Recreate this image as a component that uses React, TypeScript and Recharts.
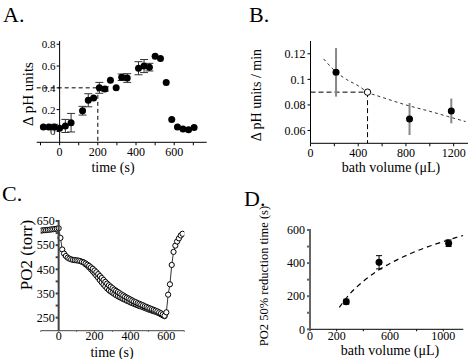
import React from "react";
import {
  ComposedChart,
  ErrorBar,
  Line,
  ReferenceLine,
  Scatter,
  XAxis,
  YAxis,
} from "recharts";

const W = 470;
const H = 359;
const SERIF = "Liberation Serif, Times New Roman, serif";

// A. pH change over time
const aTime = [-85, -57, -28, 0, 30, 60, 120, 150, 178, 208, 237, 266, 296, 325, 354, 413, 442, 470, 500, 528, 558, 587, 617, 646, 675, 704];
const aDeltaPh = [0.041, 0.04, 0.04, 0.03, 0.05, 0.08, 0.19, 0.286, 0.307, 0.4, 0.39, 0.47, 0.4, 0.497, 0.49, 0.58, 0.6, 0.59, 0.69, 0.67, 0.45, 0.11, 0.04, 0.023, 0.015, 0.035];
const aErr = [0, 0, 0.025, 0, 0.06, 0.085, 0.04, 0.06, 0, 0.05, 0.02, 0, 0, 0.03, 0.04, 0.06, 0.06, 0.035, 0, 0, 0, 0, 0, 0, 0, 0];
const aTicksX = [-100, 0, 100, 200, 300, 400, 500, 600, 700];
const aLabelsX = [0, 200, 400, 600];
const aTicksY = [0, 0.2, 0.4, 0.6, 0.8];

// B. rate vs bath volume
const bVolume = [214, 830, 1180];
const bRate = [0.1055, 0.069, 0.0753];
const bErr = [0.019, 0.0125, 0.0097];
const bMarkVolume = [478];
const bMarkRate = [0.09];
const bFitVolume = [110, 200, 300, 400, 480, 600, 800, 1000, 1150, 1300];
const bFitRate = [0.116, 0.107, 0.1, 0.095, 0.09, 0.086, 0.08, 0.075, 0.071, 0.067];
const bTicksX = [0, 200, 400, 600, 800, 1000, 1200];
const bLabelsX = [0, 400, 800, 1200];
const bTicksY = [0.06, 0.08, 0.1, 0.12];

// C. PO2 trace
const cTime = [-100, -90, -80, -70, -60, -50, -40, -30, -20, -10, 0, 10, 20, 30, 40, 50, 60, 70, 80, 90, 100, 110, 120, 130, 140, 150, 160, 170, 180, 190, 200, 210, 220, 230, 240, 250, 260, 270, 280, 290, 300, 310, 320, 330, 340, 350, 360, 370, 380, 390, 400, 410, 420, 430, 440, 450, 460, 470, 480, 490, 500, 510, 520, 530, 540, 550, 560, 570, 580, 590, 600, 610, 620, 630, 640, 650, 660, 670, 680, 690];
const cPo2 = [610, 611, 612, 612, 613, 614, 615, 616, 617, 618, 620, 580, 532, 515, 505, 498, 494, 491, 489, 488, 487, 486, 484, 481, 478, 474, 469, 464, 458, 452, 445, 438, 430, 422, 414, 406, 398, 391, 384, 378, 372, 366, 361, 356, 351, 346, 342, 337, 333, 329, 325, 321, 317, 314, 310, 307, 304, 301, 297, 294, 291, 288, 285, 282, 279, 276, 272, 268, 263, 258, 272, 345, 388, 468, 522, 548, 565, 578, 590, 597];
const cTime2 = [140, 150, 160, 170, 180, 190, 200, 210, 220, 230, 240, 250, 260, 270, 280, 290, 300, 310, 320, 330, 340, 350, 360, 370, 380, 390, 400, 410, 420, 430, 440, 450, 460, 470, 480, 490, 500, 510, 520, 530, 540, 550, 560, 570, 580, 590];
const cPo2b = [478, 471, 465, 458, 450, 442, 433, 424, 415, 405, 396, 387, 379, 371, 364, 358, 353, 348, 343, 339, 335, 331, 327, 324, 320, 317, 313, 310, 307, 304, 301, 298, 296, 293, 290, 287, 284, 282, 279, 277, 274, 271, 268, 264, 260, 256];
const cTicksX = [-100, 0, 100, 200, 300, 400, 500, 600, 700];
const cLabelsX = [0, 200, 400, 600];
const cTicksY = [250, 300, 350, 400, 450, 500, 550, 600, 650];
const cLabelsY = [250, 350, 450, 550, 650];

// D. 50% reduction time
const dVolume = [272, 518, 1040];
const dTime = [167, 405, 520];
const dErr = [15, 40, 20];
const dFitVolume = [220, 300, 400, 500, 600, 700, 800, 900, 1000, 1100, 1150];
const dFitTime = [133, 215, 290, 350, 398, 438, 473, 503, 530, 555, 567];
const dTicksX = [0, 200, 400, 600, 800, 1000];
const dLabelsX = [0, 200, 600, 1000];
const dTicksY = [0, 100, 200, 300, 400, 500, 600];
const dLabelsY = [0, 200, 400, 600];

const zip = (xs: number[], ys: number[], es?: number[]) =>
  xs.map((x, i) => ({ x, y: ys[i], e: es ? es[i] : 0 }));

const aData = zip(aTime, aDeltaPh, aErr);
const bData = zip(bVolume, bRate, bErr);
const bMark = zip(bMarkVolume, bMarkRate);
const bFit = zip(bFitVolume, bFitRate);
const cData = zip(cTime, cPo2);
const cData2 = zip(cTime2, cPo2b);
const dData = zip(dVolume, dTime, dErr);
const dFit = zip(dFitVolume, dFitTime);

const onlyLabels = (labels: number[]) => (v: number) =>
  labels.includes(v) ? String(v) : "";

const filledDot = (r: number) => (props: any) =>
  <circle cx={props.cx} cy={props.cy} r={r} fill="#000" />;
const openDot = (r: number) => (props: any) =>
  <circle cx={props.cx} cy={props.cy} r={r} fill="#fff" stroke="#000" strokeWidth={1} />;

const tickFont = (size: number) => ({ fontSize: size, fill: "#000", fontFamily: SERIF });

const layer: React.CSSProperties = { position: "absolute", left: 0, top: 0 };

// plot boxes in page pixels
const A = { l: 36.7, r: 206.7, t: 41, b: 142.3, xd: [-120, 770] };
const C = { l: 40.7, r: 184.3, t: 220, b: 330.7, xd: [-100, 700] };
const zeroX = (p: { l: number; r: number; xd: number[] }) =>
  p.l + ((0 - p.xd[0]) / (p.xd[1] - p.xd[0])) * (p.r - p.l);

// y axis standing at x = 0 inside the plot: its own thin chart on top
function InnerYAxis(props: {
  box: { l: number; r: number; t: number; b: number; xd: number[] };
  domain: number[];
  ticks: number[];
  labels: number[];
  size: number;
  stroke: string;
  strokeWidth: number;
  probe: { x: number; y: number }[];
}) {
  const x0 = zeroX(props.box);
  return (
    <div style={layer}>
      <ComposedChart
        width={W}
        height={H}
        margin={{ top: props.box.t, right: W - x0 - 4, bottom: H - props.box.b, left: x0 - 40 }}
      >
        <XAxis type="number" dataKey="x" domain={[0, 1]} hide allowDataOverflow />
        <YAxis
          type="number"
          dataKey="y"
          domain={props.domain}
          ticks={props.ticks}
          interval={0}
          width={40}
          tickSize={3}
          tickMargin={1}
          tickFormatter={onlyLabels(props.labels)}
          tick={tickFont(props.size)}
          stroke={props.stroke}
          strokeWidth={props.strokeWidth}
          allowDataOverflow
        />
        <Scatter data={props.probe} dataKey="y" shape={() => <g />} isAnimationActive={false} />
      </ComposedChart>
    </div>
  );
}

export default function App() {
  return (
    <div
      style={{
        position: "absolute",
        left: 0,
        top: 0,
        width: W,
        height: H,
        background: "#fff",
        fontFamily: SERIF,
      }}
    >
      {/* A */}
      <div style={layer}>
        <ComposedChart
          width={W}
          height={H}
          margin={{ top: A.t, right: W - A.r, bottom: H - A.b - 30, left: A.l }}
        >
          <XAxis
            type="number"
            dataKey="x"
            domain={A.xd}
            ticks={aTicksX}
            interval={0}
            height={30}
            tickSize={3}
            tickFormatter={onlyLabels(aLabelsX)}
            tick={tickFont(12)}
            stroke="#000"
            allowDataOverflow
          />
          <YAxis type="number" dataKey="y" domain={[-0.1, 0.83]} hide allowDataOverflow />
          <ReferenceLine
            segment={[{ x: -120, y: 0.4 }, { x: 200, y: 0.4 }]}
            stroke="#000"
            strokeDasharray="4 3"
          />
          <ReferenceLine
            segment={[{ x: 200, y: 0.4 }, { x: 200, y: -0.1 }]}
            stroke="#000"
            strokeDasharray="4 3"
          />
          <Scatter data={aData} dataKey="y" shape={filledDot(3.5)} isAnimationActive={false}>
            <ErrorBar dataKey="e" direction="y" width={4} stroke="#333" strokeWidth={1} />
          </Scatter>
        </ComposedChart>
      </div>
      <InnerYAxis
        box={A}
        domain={[-0.1, 0.83]}
        ticks={aTicksY}
        labels={aTicksY}
        size={11}
        stroke="#000"
        strokeWidth={1}
        probe={aData}
      />

      {/* B */}
      <div style={layer}>
        <ComposedChart
          width={W}
          height={H}
          margin={{ top: 41, right: 2, bottom: H - 143.3 - 30, left: 310.5 - 40 }}
        >
          <XAxis
            type="number"
            dataKey="x"
            domain={[0, 1320]}
            ticks={bTicksX}
            interval={0}
            height={30}
            tickSize={3}
            tickFormatter={onlyLabels(bLabelsX)}
            tick={tickFont(12)}
            stroke="#000"
            allowDataOverflow
          />
          <YAxis
            type="number"
            dataKey="y"
            domain={[0.05, 0.13]}
            ticks={bTicksY}
            interval={0}
            width={40}
            tickSize={3}
            tick={tickFont(12)}
            stroke="#000"
            allowDataOverflow
          />
          <ReferenceLine
            segment={[{ x: 0, y: 0.09 }, { x: 478, y: 0.09 }]}
            stroke="#000"
            strokeDasharray="5 3"
          />
          <ReferenceLine
            segment={[{ x: 478, y: 0.09 }, { x: 478, y: 0.05 }]}
            stroke="#000"
            strokeDasharray="5 3"
          />
          <Line
            data={bFit}
            dataKey="y"
            type="monotone"
            stroke="#333"
            strokeWidth={1}
            strokeDasharray="3 3"
            dot={false}
            isAnimationActive={false}
          />
          <Scatter data={bData} dataKey="y" shape={filledDot(3.5)} isAnimationActive={false}>
            <ErrorBar dataKey="e" direction="y" width={0} stroke="#888" strokeWidth={2} />
          </Scatter>
          <Scatter data={bMark} dataKey="y" shape={openDot(3.2)} isAnimationActive={false} />
        </ComposedChart>
      </div>

      {/* C */}
      <div style={layer}>
        <ComposedChart
          width={W}
          height={H}
          margin={{ top: C.t, right: W - C.r, bottom: H - C.b - 20, left: C.l }}
        >
          <XAxis
            type="number"
            dataKey="x"
            domain={C.xd}
            ticks={cTicksX}
            interval={0}
            height={20}
            tickSize={1}
            tickMargin={0}
            tickFormatter={onlyLabels(cLabelsX)}
            tick={tickFont(12)}
            stroke="#444"
            allowDataOverflow
          />
          <YAxis type="number" dataKey="y" domain={[196, 654]} hide allowDataOverflow />
          <Line
            data={cData2}
            dataKey="y"
            type="linear"
            stroke="#000"
            strokeWidth={0.8}
            dot={openDot(2.6)}
            isAnimationActive={false}
          />
          <Line
            data={cData}
            dataKey="y"
            type="linear"
            stroke="#000"
            strokeWidth={0.8}
            dot={openDot(2.6)}
            isAnimationActive={false}
          />
        </ComposedChart>
      </div>
      <InnerYAxis
        box={C}
        domain={[196, 654]}
        ticks={cTicksY}
        labels={cLabelsY}
        size={12}
        stroke="#444"
        strokeWidth={2}
        probe={cData}
      />

      {/* D */}
      <div style={layer}>
        <ComposedChart
          width={W}
          height={H}
          margin={{ top: 229, right: W - 463.3, bottom: H - 329.3 - 20, left: 310 - 40 }}
        >
          <XAxis
            type="number"
            dataKey="x"
            domain={[0, 1150]}
            ticks={dTicksX}
            interval={0}
            height={20}
            tickSize={2}
            tickMargin={0}
            tickFormatter={onlyLabels(dLabelsX)}
            tick={tickFont(12)}
            stroke="#000"
            allowDataOverflow
          />
          <YAxis
            type="number"
            dataKey="y"
            domain={[0, 606]}
            ticks={dTicksY}
            interval={0}
            width={40}
            tickSize={3}
            tickFormatter={onlyLabels(dLabelsY)}
            tick={tickFont(12)}
            stroke="#666"
            strokeWidth={2}
            allowDataOverflow
          />
          <Line
            data={dFit}
            dataKey="y"
            type="monotone"
            stroke="#000"
            strokeWidth={1.2}
            strokeDasharray="5 4"
            dot={false}
            isAnimationActive={false}
          />
          <Scatter data={dData} dataKey="y" shape={filledDot(3.5)} isAnimationActive={false}>
            <ErrorBar dataKey="e" direction="y" width={3} stroke="#000" strokeWidth={1} />
          </Scatter>
        </ComposedChart>
      </div>

      {/* titles and axis names */}
      <svg width={W} height={H} style={{ ...layer, pointerEvents: "none" }} fontFamily={SERIF}>
        <text x={3} y={22} fontSize={22}>A.</text>
        <text x={249} y={22} fontSize={22}>B.</text>
        <text x={2} y={201} fontSize={22}>C.</text>
        <text x={244} y={206} fontSize={22}>D.</text>

        <text transform="translate(28,94) rotate(-90)" textAnchor="middle" dominantBaseline="central" fontSize={15}>
          Δ pH units
        </text>
        <text x={113} y={172} textAnchor="middle" fontSize={14}>time (s)</text>

        <text transform="translate(256,95) rotate(-90)" textAnchor="middle" dominantBaseline="central" fontSize={14}>
          Δ pH units / min
        </text>
        <text x={391} y={172} textAnchor="middle" fontSize={14}>bath volume (μL)</text>

        <text transform="translate(26,255) rotate(-90)" textAnchor="middle" dominantBaseline="central" fontSize={17}>
          PO2 (torr)
        </text>
        <text x={112} y={357} textAnchor="middle" fontSize={14}>time (s)</text>

        <text transform="translate(264,276) rotate(-90)" textAnchor="middle" dominantBaseline="central" fontSize={12.5}>
          PO2 50% reduction time (s)
        </text>
        <text x={390} y={355} textAnchor="middle" fontSize={14}>bath volume (μL)</text>
      </svg>
    </div>
  );
}
